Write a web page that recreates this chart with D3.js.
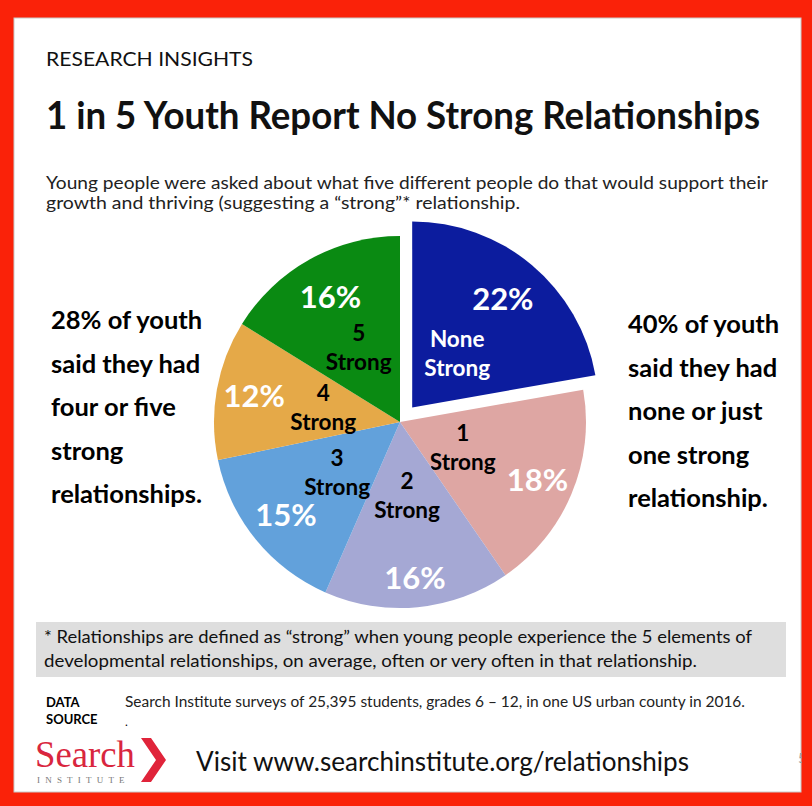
<html>
<head>
<script src="https://d3js.org/d3.v7.min.js"></script>
<style>
  body { margin: 0; background: #fff; }
  text { font-family: Lato, "Open Sans", sans-serif; }
  text.serif { font-family: "Liberation Serif", "DejaVu Serif", serif; }
</style>
</head>
<body>
<div id="chart"></div>
<script>
// data
const categories = ["None Strong", "1 Strong", "2 Strong", "3 Strong", "4 Strong", "5 Strong"];
const catLines = [["None", "Strong"], ["1", "Strong"], ["2", "Strong"], ["3", "Strong"], ["4", "Strong"], ["5", "Strong"]];
const values = [22, 18, 16, 15, 12, 16];
const colors = ["#0c1c9e", "#dea6a3", "#a5a8d4", "#62a1db", "#e5a948", "#0a8a12"];
const catTextColors = ["#fff", "#000", "#000", "#000", "#000", "#000"];
const explode = [true, false, false, false, false, false];

const leftNote = ["28% of youth", "said they had", "four or five", "strong", "relationships."];
const rightNote = ["40% of youth", "said they had", "none or just", "one strong", "relationship."];
const subtitle = ["Young people were asked about what five different people do that would support their",
                  "growth and thriving (suggesting a \u201cstrong\u201d* relationship."];
const footnote = ["* Relationships are defined as \u201cstrong\u201d when young people experience the 5 elements of",
                  "developmental relationships, on average, often or very often in that relationship."];

const width = 812, height = 806;
const cx = 400, cy = 422, radius = 186, offset = 19;
// label distance from centre for each slice
const pctR = [141, 149, 157, 147, 148, 143];
const catR = [70, 68, 74, 81, 78, 85];

const svg = d3.select("#chart").append("svg")
    .attr("width", width)
    .attr("height", height);

// red frame
svg.append("rect").attr("width", width).attr("height", height).attr("fill", "#fa2209");
svg.append("rect")
    .attr("x", 14).attr("y", 18).attr("width", 787).attr("height", 774)
    .attr("fill", "#fff").attr("stroke", "#c9c9c9").attr("stroke-width", 1);

// header
svg.append("text").attr("x", 46).attr("y", 66)
    .attr("font-size", 20).attr("fill", "#111")
    .attr("textLength", 207).attr("lengthAdjust", "spacingAndGlyphs")
    .text("RESEARCH INSIGHTS");
svg.append("text").attr("x", 46).attr("y", 129)
    .attr("font-size", 38).attr("font-weight", "bold").attr("fill", "#111")
    .attr("textLength", 714).attr("lengthAdjust", "spacingAndGlyphs")
    .text("1 in 5 Youth Report No Strong Relationships");
svg.selectAll(".sub").data(subtitle).enter().append("text")
    .attr("x", 46).attr("y", (d, i) => 189 + i * 20)
    .attr("font-size", 16.5).attr("fill", "#222")
    .attr("textLength", (d, i) => i === 0 ? 722 : 474).attr("lengthAdjust", "spacingAndGlyphs")
    .text(d => d);

// pie
const pie = d3.pie().sort(null).value(d => d);
const arcs = pie(values);
const arc = d3.arc().innerRadius(0).outerRadius(radius);

function polar(d, r) {
    const a = (d.startAngle + d.endAngle) / 2;
    return [Math.sin(a) * r, -Math.cos(a) * r];
}

const g = svg.append("g").attr("transform", `translate(${cx},${cy})`);
const slice = g.selectAll(".slice").data(arcs).enter().append("g")
    .attr("class", "slice")
    .attr("transform", (d, i) => { const s = polar(d, explode[i] ? offset : 0); return `translate(${s[0]},${s[1]})`; });

slice.append("path")
    .attr("d", arc)
    .attr("fill", (d, i) => colors[i]);

slice.append("text")
    .attr("transform", (d, i) => { const c = polar(d, pctR[i]); return `translate(${c[0]},${c[1] + 11})`; })
    .attr("text-anchor", "middle")
    .attr("font-size", 31).attr("font-weight", "bold").attr("fill", "#fff")
    .text((d, i) => values[i] + "%");

slice.each(function(d, i) {
    const c = polar(d, catR[i]);
    d3.select(this).selectAll(".cat").data(catLines[i]).enter().append("text")
        .attr("x", c[0])
        .attr("y", (t, j) => c[1] - 7 + j * 29)
        .attr("text-anchor", "middle")
        .attr("font-size", 22.5).attr("font-weight", "bold")
        .attr("fill", catTextColors[i])
        .text(t => t);
});

// side notes
svg.selectAll(".left").data(leftNote).enter().append("text")
    .attr("x", 51).attr("y", (d, i) => 329 + i * 43.5)
    .attr("font-size", 25.5).attr("font-weight", "bold").attr("fill", "#000")
    .text(d => d);
svg.selectAll(".right").data(rightNote).enter().append("text")
    .attr("x", 628).attr("y", (d, i) => 333 + i * 43.5)
    .attr("font-size", 25.5).attr("font-weight", "bold").attr("fill", "#000")
    .text(d => d);

// footnote box
svg.append("rect").attr("x", 36).attr("y", 622).attr("width", 750).attr("height", 55).attr("fill", "#dedede");
svg.selectAll(".foot").data(footnote).enter().append("text")
    .attr("x", 44).attr("y", (d, i) => 643 + i * 24)
    .attr("font-size", 16.5).attr("fill", "#111")
    .attr("textLength", (d, i) => i === 0 ? 708 : 653).attr("lengthAdjust", "spacingAndGlyphs")
    .text(d => d);

// data source
svg.append("text").attr("x", 46).attr("y", 707).attr("font-size", 13).attr("font-weight", "bold").text("DATA");
svg.append("text").attr("x", 46).attr("y", 724).attr("font-size", 13).attr("font-weight", "bold").text("SOURCE");
svg.append("text").attr("x", 125).attr("y", 707).attr("font-size", 14.5).attr("fill", "#222")
    .attr("textLength", 620).attr("lengthAdjust", "spacingAndGlyphs")
    .text("Search Institute surveys of 25,395 students, grades 6 \u2013 12, in one US urban county in 2016.");
svg.append("text").attr("x", 125).attr("y", 726).attr("font-size", 12).text(".");

// logo
svg.append("text").attr("class", "serif").attr("x", 35).attr("y", 767)
    .attr("font-size", 38).attr("fill", "#d9263e")
    .attr("textLength", 100).attr("lengthAdjust", "spacingAndGlyphs")
    .text("Search");
svg.append("text").attr("class", "serif").attr("x", 37).attr("y", 783)
    .attr("font-size", 9).attr("fill", "#777").attr("letter-spacing", 5.2)
    .text("INSTITUTE");
svg.append("path")
    .attr("d", "M141,738 L151,738 L166,760 L151,782 L141,782 L156,760 Z")
    .attr("fill", "#e0243a");

svg.append("text").attr("x", 196).attr("y", 771)
    .attr("font-size", 26).attr("fill", "#111")
    .attr("textLength", 493).attr("lengthAdjust", "spacingAndGlyphs")
    .text("Visit www.searchinstitute.org/relationships");

// slide number, cut by the frame
svg.append("text").attr("x", 798).attr("y", 763).attr("font-size", 14).attr("fill", "#999").text("5");
svg.append("rect").attr("x", 802).attr("y", 0).attr("width", 10).attr("height", height).attr("fill", "#fa2209");
</script>
</body>
</html>
